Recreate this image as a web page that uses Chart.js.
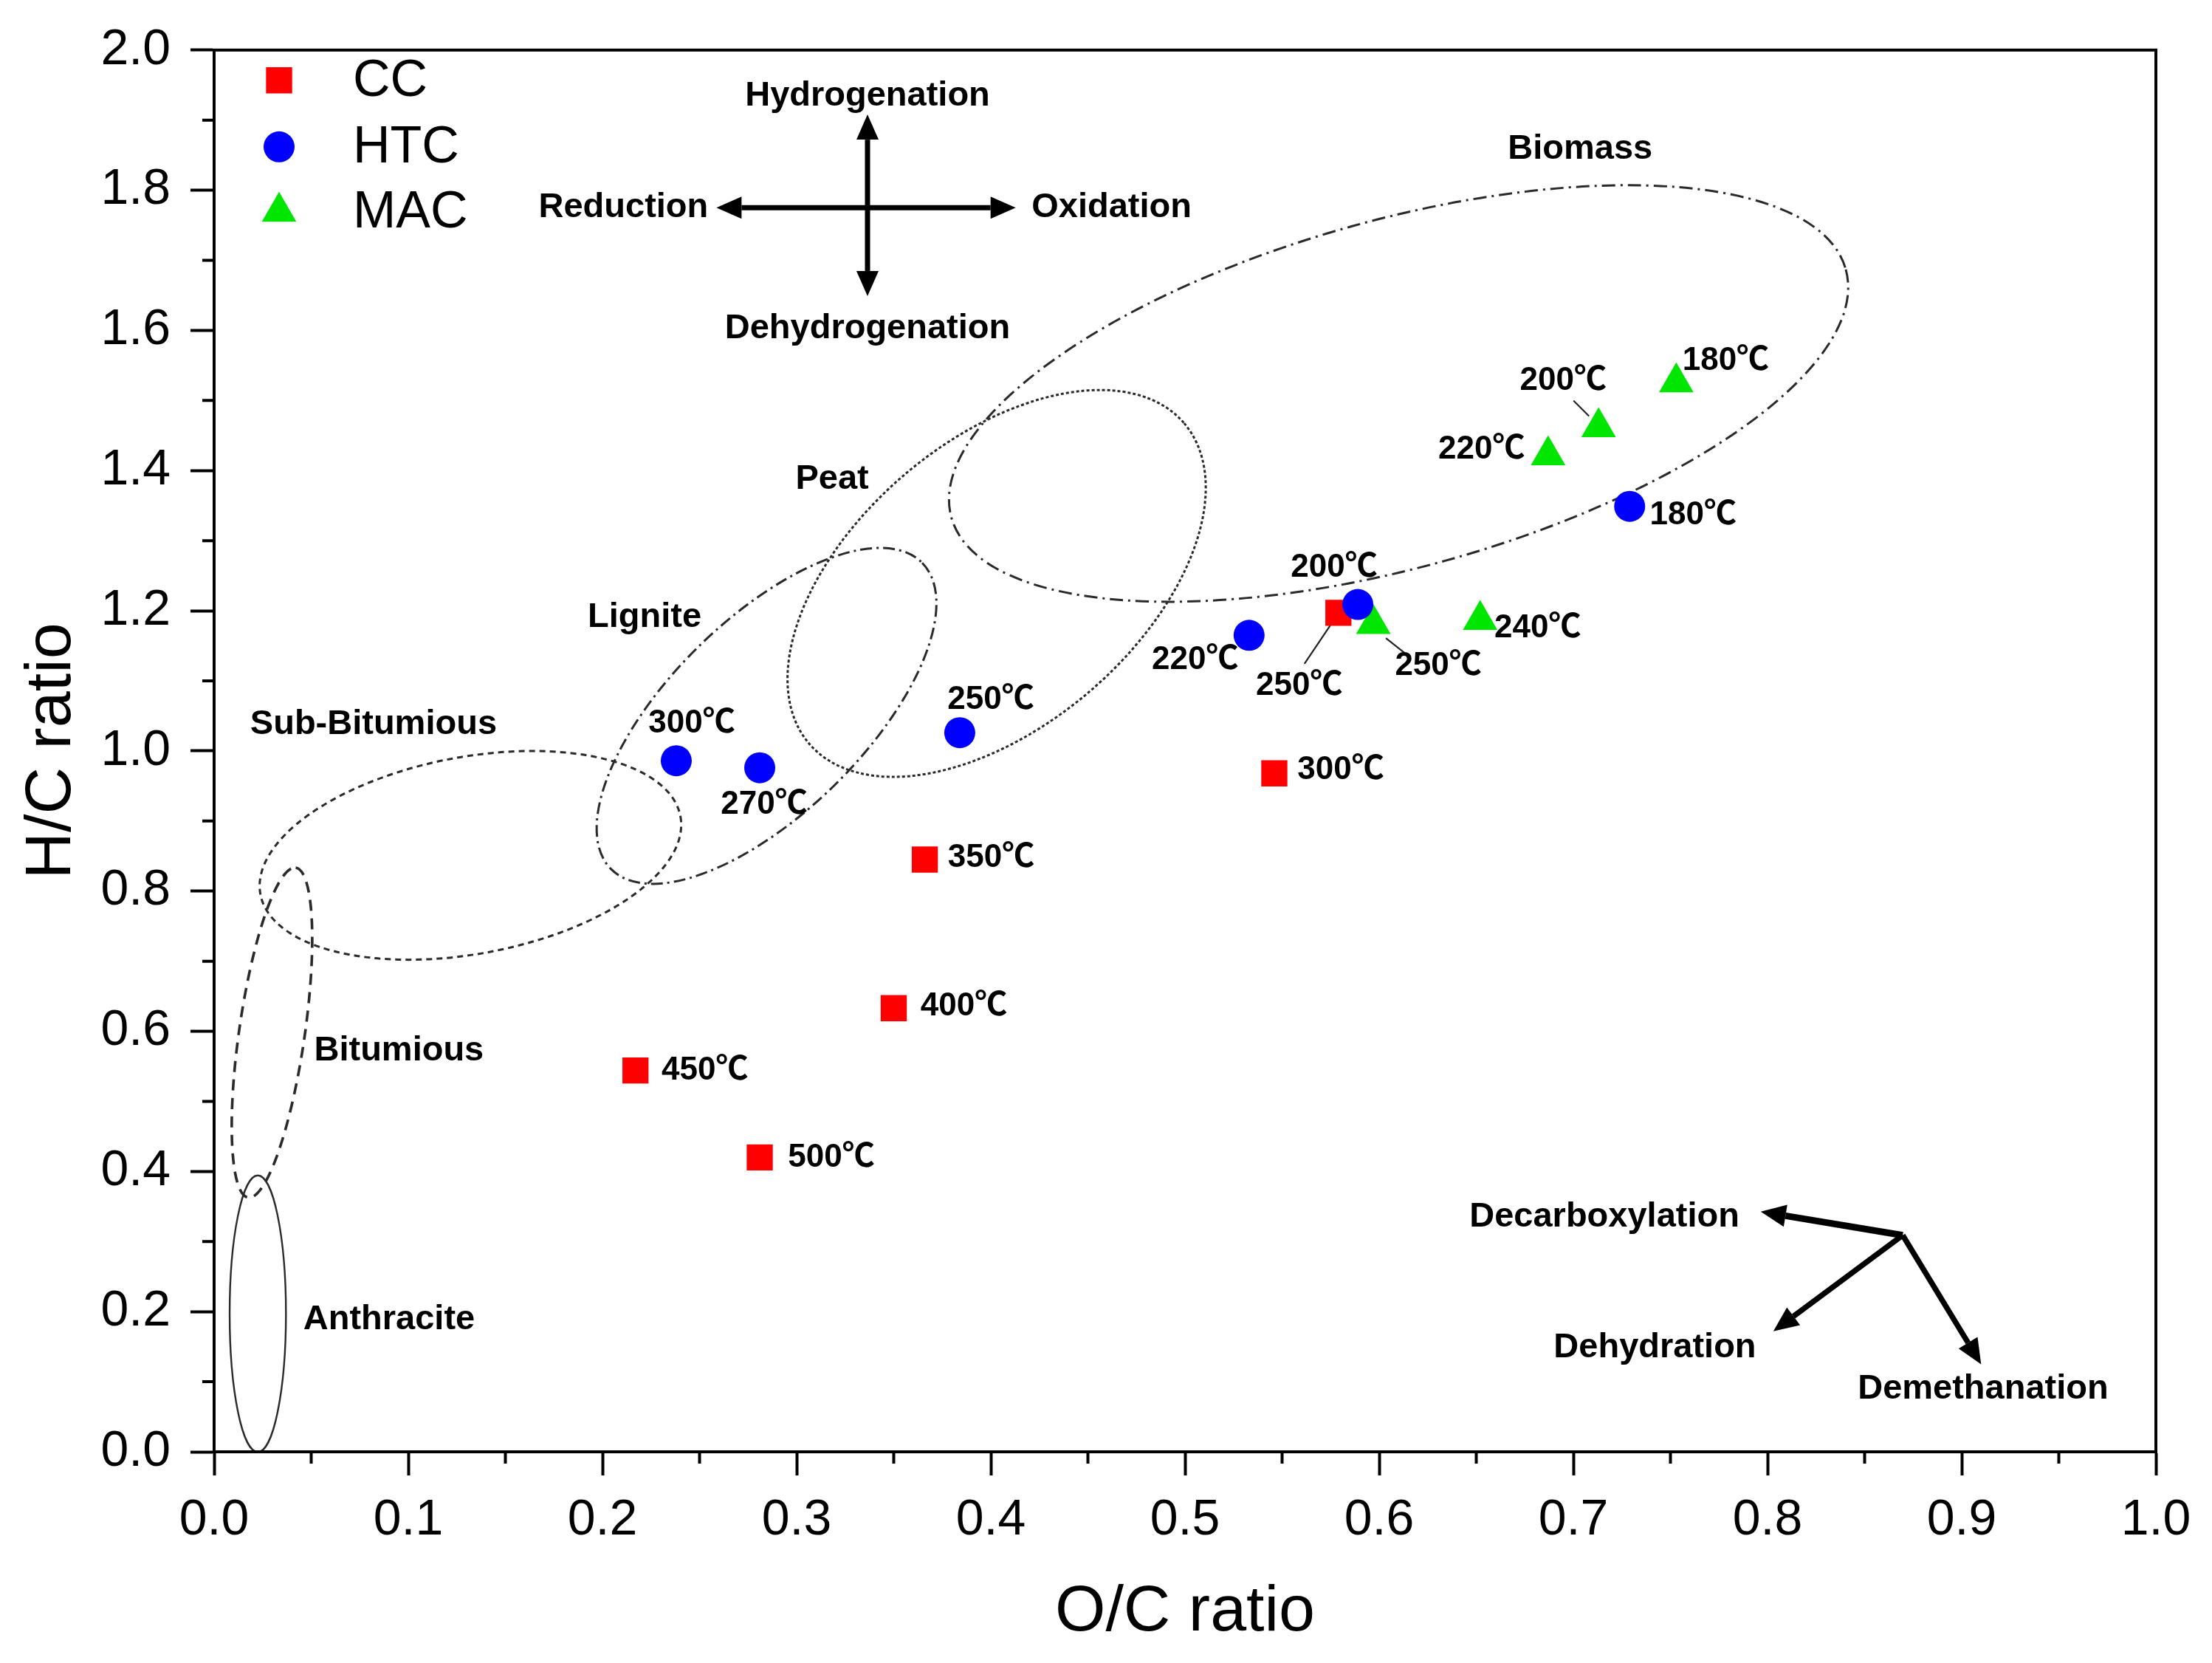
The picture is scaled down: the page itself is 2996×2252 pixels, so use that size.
<!DOCTYPE html>
<html>
<head>
<meta charset="utf-8">
<script src="https://cdn.jsdelivr.net/npm/chart.js@4.4.1/dist/chart.umd.min.js"></script>
<style>
  html, body { margin: 0; padding: 0; background: #fff; }
  #wrap { width: 2996px; height: 2252px; }
</style>
</head>
<body>
<div id="wrap"><canvas id="myChart"></canvas></div>
<script>
/* datos */
const xTicks = [0, 0.1, 0.2, 0.3, 0.4, 0.5, 0.6, 0.7, 0.8, 0.9, 1.0];
const yTicks = [0, 0.2, 0.4, 0.6, 0.8, 1.0, 1.2, 1.4, 1.6, 1.8, 2.0];

const ccTemps = ["250℃", "300℃", "350℃", "400℃", "450℃", "500℃"];
const ccOC = [0.579, 0.546, 0.366, 0.350, 0.217, 0.281];
const ccHC = [1.197, 0.968, 0.845, 0.633, 0.544, 0.420];

const htcTemps = ["180℃", "200℃", "220℃", "250℃", "270℃", "300℃"];
const htcOC = [0.729, 0.589, 0.533, 0.384, 0.281, 0.238];
const htcHC = [1.349, 1.209, 1.165, 1.026, 0.976, 0.986];

const macTemps = ["180℃", "200℃", "220℃", "240℃", "250℃"];
const macOC = [0.753, 0.713, 0.687, 0.652, 0.597];
const macHC = [1.526, 1.462, 1.422, 1.187, 1.181];

const FONT = "'Liberation Sans', Arial, 'Noto Sans CJK KR', sans-serif";

/* offsets (px) de las etiquetas de temperatura respecto a cada punto */
const labelOffsets = [
  [[-53, 99], [90, -4], [90, -2], [95, -2], [94, 0], [97, 0]],
  [[86, 12], [-32, -50], [-73, 34], [42, -44], [6, 50], [21, -50]],
  [[67, -29], [-48, -63], [-90, -8], [78, 11], [88, 57]]
];
/* lineas guia: [dataset, punto, x1, y1, x2, y2] en px relativos al punto */
const leaders = [
  [0, 0, -46, 69, -11, 17],
  [2, 4, 17, 19, 46, 42],
  [2, 1, -34, -36, -13, -15]
];

/* zonas de carbon (centro en datos, semiejes en unidades de O/C, giro en grados) */
const regions = [
  { cx: 0.0225, cy: 0.197, a: 0.0712, b: 0.0145, rot: 90, dash: [], w: 2.4 },
  { cx: 0.0298, cy: 0.598, a: 0.0858, b: 0.0169, rot: 81.8, dash: [15, 10], w: 3.6 },
  { cx: 0.132, cy: 0.851, a: 0.110, b: 0.0507, rot: 10.5, dash: [8, 6], w: 3 },
  { cx: 0.2845, cy: 1.050, a: 0.1124, b: 0.050, rot: 44.5, dash: [16, 6, 3, 6], w: 3 },
  { cx: 0.403, cy: 1.239, a: 0.127, b: 0.0734, rot: 40.5, dash: [4, 3], w: 3 },
  { cx: 0.610, cy: 1.510, a: 0.239, b: 0.0894, rot: 15.5, dash: [18, 7, 3, 7], w: 3 }
];

const notes = [
  ["Biomass", 0.7035, 1.859], ["Peat", 0.3183, 1.3876], ["Lignite", 0.2217, 1.191],
  ["Sub-Bitumious", 0.0821, 1.038], ["Bitumious", 0.0952, 0.572], ["Anthracite", 0.0901, 0.189],
  ["Hydrogenation", 0.3365, 1.934], ["Reduction", 0.2108, 1.775], ["Oxidation", 0.4622, 1.775],
  ["Dehydrogenation", 0.3365, 1.602], ["Decarboxylation", 0.716, 0.335],
  ["Dehydration", 0.742, 0.149], ["Demethanation", 0.911, 0.090]
];

/* flechas: desde [x,y] hasta [x,y], grosor */
const arrows = [
  [0.3365, 1.775, 0.3365, 1.908, 7], [0.3365, 1.775, 0.3365, 1.649, 7],
  [0.3365, 1.775, 0.2587, 1.775, 7], [0.3365, 1.775, 0.4128, 1.775, 7],
  [0.8696, 0.309, 0.7965, 0.3426, 9], [0.8696, 0.309, 0.803, 0.1719, 7.5],
  [0.8696, 0.309, 0.910, 0.1249, 7.5]
];

function toPoints(xs, ys) {
  return xs.map((x, i) => ({ x: x, y: ys[i] }));
}

function drawArrow(ctx, x1, y1, x2, y2, w) {
  const hl = 34, hw = 15;
  const ang = Math.atan2(y2 - y1, x2 - x1);
  const bx = x2 - hl * Math.cos(ang), by = y2 - hl * Math.sin(ang);
  ctx.lineWidth = w;
  ctx.beginPath(); ctx.moveTo(x1, y1); ctx.lineTo(bx, by); ctx.stroke();
  ctx.beginPath();
  ctx.moveTo(x2, y2);
  ctx.lineTo(bx + hw * Math.sin(ang), by - hw * Math.cos(ang));
  ctx.lineTo(bx - hw * Math.sin(ang), by + hw * Math.cos(ang));
  ctx.closePath(); ctx.fill();
}

const extras = {
  id: "extras",
  beforeDatasetsDraw(chart) {
    const { ctx, scales: { x, y } } = chart;
    const ux = x.getPixelForValue(1) - x.getPixelForValue(0);
    ctx.save();
    ctx.strokeStyle = "#2a2a2a";
    regions.forEach(r => {
      ctx.lineWidth = r.w;
      ctx.setLineDash(r.dash);
      ctx.beginPath();
      ctx.ellipse(x.getPixelForValue(r.cx), y.getPixelForValue(r.cy), r.a * ux, r.b * ux,
        -r.rot * Math.PI / 180, 0, Math.PI * 2);
      ctx.stroke();
    });
    ctx.setLineDash([]);
    ctx.strokeStyle = "#000"; ctx.fillStyle = "#000";
    ctx.lineCap = "butt";
    arrows.forEach(a => {
      drawArrow(ctx, x.getPixelForValue(a[0]), y.getPixelForValue(a[1]),
        x.getPixelForValue(a[2]), y.getPixelForValue(a[3]), a[4]);
    });
    ctx.lineWidth = 2.2;
    ctx.strokeStyle = "#222";
    leaders.forEach(l => {
      const p = chart.getDatasetMeta(l[0]).data[l[1]];
      ctx.beginPath(); ctx.moveTo(p.x + l[2], p.y + l[3]); ctx.lineTo(p.x + l[4], p.y + l[5]); ctx.stroke();
    });
    ctx.restore();
  },
  afterDatasetsDraw(chart) {
    const { ctx, chartArea: ca, scales: { x, y } } = chart;
    ctx.save();
    ctx.fillStyle = "#000";
    ctx.textAlign = "center";
    ctx.textBaseline = "middle";
    ctx.font = "bold 47px " + FONT;
    notes.forEach(n => ctx.fillText(n[0], x.getPixelForValue(n[1]), y.getPixelForValue(n[2])));

    ctx.font = "bold 44px " + FONT;
    const temps = [ccTemps, htcTemps, macTemps];
    temps.forEach((list, d) => {
      const meta = chart.getDatasetMeta(d);
      list.forEach((t, i) => {
        const p = meta.data[i];
        const o = labelOffsets[d][i];
        ctx.fillText(t, p.x + o[0], p.y + o[1]);
      });
    });

    /* leyenda dentro del area */
    ctx.textAlign = "left";
    ctx.font = "70px " + FONT;
    const rows = [41, 131, 219];
    chart.data.datasets.forEach((ds, i) => {
      const mx = ca.left + 88, my = ca.top + rows[i];
      ctx.fillStyle = ds.backgroundColor;
      Chart.helpers.drawPoint(ctx, { pointStyle: ds.pointStyle, radius: ds.pointRadius, rotation: 0, borderWidth: 0 }, mx, my);
      ctx.fillStyle = "#000";
      ctx.fillText(ds.label, ca.left + 188, my + 2);
    });

    /* marco y ticks menores */
    ctx.strokeStyle = "#000";
    ctx.lineWidth = 4;
    ctx.strokeRect(ca.left, ca.top, ca.right - ca.left, ca.bottom - ca.top);
    ctx.beginPath();
    for (let i = 0; i < xTicks.length - 1; i++) {
      const px = x.getPixelForValue((xTicks[i] + xTicks[i + 1]) / 2);
      ctx.moveTo(px, ca.bottom); ctx.lineTo(px, ca.bottom + 16);
    }
    for (let i = 0; i < yTicks.length - 1; i++) {
      const py = y.getPixelForValue((yTicks[i] + yTicks[i + 1]) / 2);
      ctx.moveTo(ca.left, py); ctx.lineTo(ca.left - 16, py);
    }
    ctx.stroke();
    ctx.restore();
  }
};

Chart.defaults.color = "#000";
Chart.defaults.font.family = FONT;

const data = {
  datasets: [
    { label: "CC", data: toPoints(ccOC, ccHC), pointStyle: "rect", pointRadius: 25,
      backgroundColor: "#ff0000", borderColor: "#ff0000", pointBorderWidth: 0, order: 2 },
    { label: "HTC", data: toPoints(htcOC, htcHC), pointStyle: "circle", pointRadius: 21,
      backgroundColor: "#0000ff", borderColor: "#0000ff", pointBorderWidth: 0, order: 0 },
    { label: "MAC", data: toPoints(macOC, macHC), pointStyle: "triangle", pointRadius: 27,
      backgroundColor: "#00e600", borderColor: "#00e600", pointBorderWidth: 0, order: 1 }
  ]
};

const axisGrid = { drawOnChartArea: false, drawTicks: true, tickLength: 32, tickWidth: 4, tickColor: "#000" };

const config = {
  type: "scatter",
  data,
  options: {
    responsive: true,
    maintainAspectRatio: false,
    devicePixelRatio: 1,
    animation: false,
    layout: { padding: { top: 58, right: 76, bottom: 0, left: 0 } },
    plugins: { legend: { display: false }, tooltip: { enabled: false } },
    scales: {
      x: {
        type: "linear", min: 0, max: 1,
        afterFit: (s) => { s.height = 286; },
        afterBuildTicks: (s) => { s.ticks = xTicks.map(v => ({ value: v })); },
        ticks: { font: { size: 68 }, padding: 20, callback: (v) => v.toFixed(1) },
        grid: axisGrid,
        border: { display: true, width: 4, color: "#000" },
        title: { display: true, text: "O/C ratio", font: { size: 88 }, padding: { top: 0, bottom: 15 } }
      },
      y: {
        type: "linear", min: 0, max: 2,
        afterFit: (s) => { s.width = 290; },
        afterBuildTicks: (s) => { s.ticks = yTicks.map(v => ({ value: v })); },
        ticks: { font: { size: 68 }, padding: 27, callback: (v) => v.toFixed(1) },
        grid: axisGrid,
        border: { display: true, width: 4, color: "#000" },
        title: { display: true, text: "H/C ratio", font: { size: 88 }, padding: { top: 18, bottom: 0 } }
      }
    }
  },
  plugins: [extras]
};

const ctx = document.getElementById("myChart").getContext("2d");
const myChart = new Chart(ctx, config);
</script>
</body>
</html>
